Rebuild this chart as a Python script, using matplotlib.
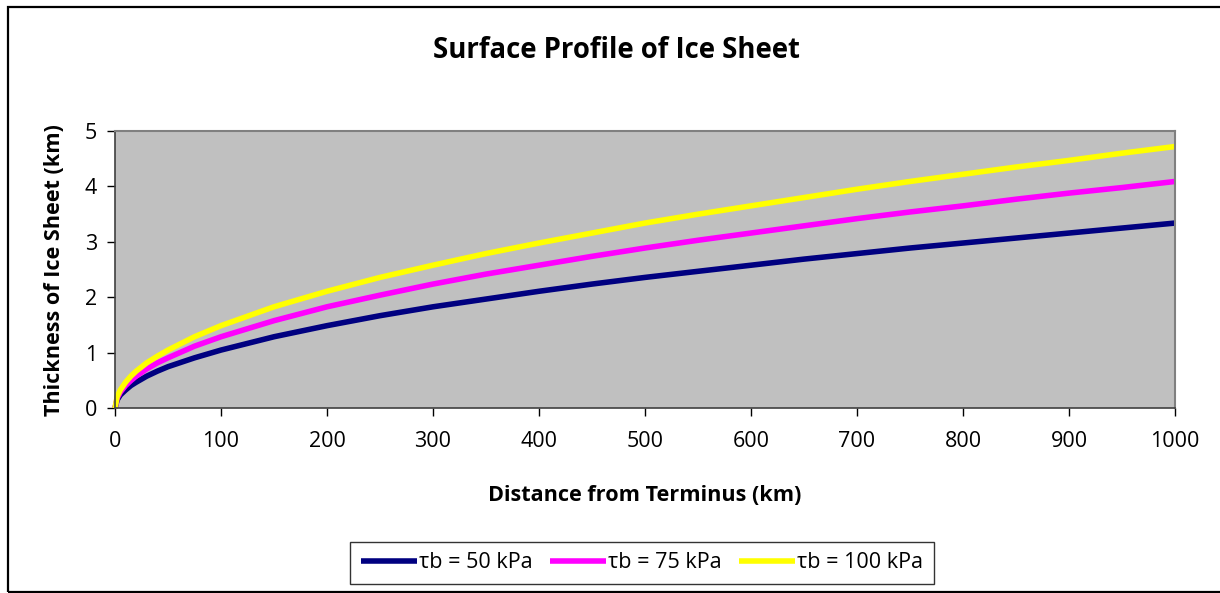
import matplotlib
matplotlib.use("Agg")
import matplotlib.pyplot as plt
from matplotlib.patches import Rectangle

plt.rcParams['font.family'] = ['Open Sans', 'DejaVu Sans']

# Distance from terminus (km)
distance_km = [0, 2, 5, 10, 15, 20, 30, 40, 50, 75, 100, 150, 200, 250, 300, 350,
               400, 450, 500, 550, 600, 650, 700, 750, 800, 850, 900, 950, 1000]

# Ice thickness (km) for each basal shear stress
thick_50 = [0, 0.15, 0.24, 0.33, 0.41, 0.47, 0.58, 0.67, 0.75, 0.91, 1.05, 1.29, 1.49,
            1.67, 1.83, 1.97, 2.11, 2.24, 2.36, 2.47, 2.58, 2.69, 2.79, 2.89, 2.98,
            3.07, 3.16, 3.25, 3.34]
thick_75 = [0, 0.18, 0.29, 0.41, 0.50, 0.58, 0.71, 0.82, 0.91, 1.12, 1.29, 1.58, 1.83,
            2.04, 2.24, 2.42, 2.58, 2.74, 2.89, 3.03, 3.16, 3.29, 3.42, 3.54, 3.65,
            3.77, 3.88, 3.98, 4.09]
thick_100 = [0, 0.21, 0.33, 0.47, 0.58, 0.67, 0.82, 0.94, 1.05, 1.29, 1.49, 1.83, 2.11,
             2.36, 2.58, 2.79, 2.98, 3.16, 3.34, 3.50, 3.65, 3.80, 3.95, 4.09, 4.22,
             4.35, 4.47, 4.60, 4.72]

series_labels = ["τb = 50 kPa", "τb = 75 kPa", "τb = 100 kPa"]
series_colors = ["#000080", "#FF00FF", "#FFFF00"]

x_ticks = [0, 100, 200, 300, 400, 500, 600, 700, 800, 900, 1000]
y_ticks = [0, 1, 2, 3, 4, 5]

fig = plt.figure(figsize=(12.2, 5.93), dpi=100)
fig.patch.set_facecolor("white")

# chart-area border (right edge runs past the canvas)
fig.patches.append(Rectangle((8 / 1220, 1.5 / 593), 1230 / 1220, 584.5 / 593,
                             transform=fig.transFigure, fill=False,
                             edgecolor="black", linewidth=1.6))

ax = fig.add_axes([115 / 1220, 1 - 408.3 / 593, 1060 / 1220, 277.3 / 593])
ax.set_facecolor("#C0C0C0")

for ys, lab, col in zip([thick_50, thick_75, thick_100], series_labels, series_colors):
    ax.plot(distance_km, ys, color=col, linewidth=4.0, label=lab,
            solid_joinstyle="round", solid_capstyle="butt", clip_on=False)

ax.set_xlim(0, 1000)
ax.set_ylim(0, 5)
ax.set_xticks(x_ticks)
ax.set_yticks(y_ticks)
ax.tick_params(axis="both", direction="out", length=6, width=1, colors="black",
               labelsize=15.5)
ax.tick_params(axis="x", pad=10)
ax.tick_params(axis="y", pad=7)

for side in ["top", "right"]:
    ax.spines[side].set_color("#808080")
    ax.spines[side].set_linewidth(1.5)
for side in ["left", "bottom"]:
    ax.spines[side].set_color("#404040")
    ax.spines[side].set_linewidth(1.2)

ax.set_xlabel("Distance from Terminus (km)", fontsize=15.6, fontweight="bold", labelpad=24)
ax.set_ylabel("Thickness of Ice Sheet (km)", fontsize=15.6, fontweight="bold", labelpad=14)

fig.text(616 / 1220, 1 - 51 / 593, "Surface Profile of Ice Sheet", ha="center",
         va="center", fontsize=19.8, fontweight="bold")

leg = fig.legend(loc="center", bbox_to_anchor=(642 / 1220, 1 - 563 / 593),
                 ncol=3, frameon=True, fancybox=False, fontsize=15.5,
                 handlelength=2.6, handletextpad=0.1, columnspacing=0.8,
                 borderpad=0.5)
leg.get_frame().set_edgecolor("black")
leg.get_frame().set_linewidth(1.0)

fig.savefig("out.png", dpi=100)
